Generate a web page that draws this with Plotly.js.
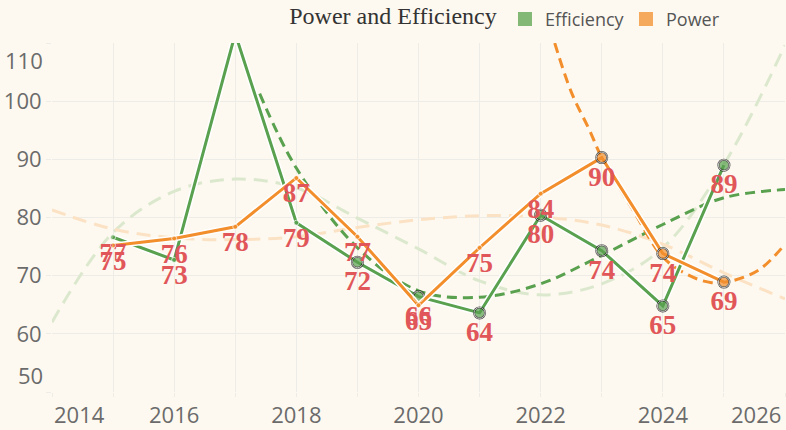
<!DOCTYPE html>
<html>
<head>
<meta charset="utf-8">
<script src="https://cdn.plot.ly/plotly-3.0.1.min.js"></script>
<style>
  html, body { margin: 0; padding: 0; background: #fdf9f0; }
  #chart { width: 786px; height: 430px; }
</style>
</head>
<body>
<div id="chart"></div>
<script>
// yearly values
var years = [2015, 2016, 2017, 2018, 2019, 2020, 2021, 2022, 2023, 2024, 2025];
var efficiency = [76.6, 72.7, 111.6, 79.1, 72.3, 66.4, 63.6, 80.4, 74.3, 64.8, 89.0];
var power = [75.2, 76.4, 78.4, 86.8, 76.7, 64.9, 74.8, 84.1, 90.3, 73.8, 68.9];
// 1 = ringed point
var effRinged = [0, 0, 0, 0, 1, 1, 1, 1, 1, 1, 1];
var powRinged = [0, 0, 0, 0, 0, 0, 0, 0, 1, 1, 1];

// trend curves
var longTrendYears = [2014, 2015, 2016, 2017, 2018, 2019, 2020, 2021, 2022, 2023, 2024, 2025, 2026];
var effLongTrend = [62.0, 77.4, 84.5, 86.6, 85.1, 79.9, 74.6, 69.1, 66.7, 68.6, 74.8, 89.1, 109.6];
var powLongTrend = [81.3, 78.0, 76.5, 76.2, 76.7, 78.3, 79.6, 80.3, 80.1, 78.7, 75.4, 70.5, 66.0];
var effTrendYears = [2017.4, 2018, 2019, 2020, 2021, 2022, 2023, 2024, 2025, 2026];
var effTrend = [101.3, 88.5, 74.8, 67.4, 66.3, 68.6, 73.5, 78.8, 83.4, 84.8];
var powTrendYears = [2022.23, 2022.5, 2022.8, 2023, 2023.5, 2024, 2024.4, 2024.8, 2025.2, 2025.6, 2026];
var powTrend = [110, 101.6, 95, 90.3, 81.5, 73.2, 70.2, 68.8, 69.3, 71.2, 75.4];

// axis ticks
var xTickVals = [2014, 2015, 2016, 2017, 2018, 2019, 2020, 2021, 2022, 2023, 2024, 2025, 2026];
var xTickText = ['', '', '2016', '', '2018', '', '2020', '', '2022', '', '2024', '', ''];
var yTickVals = [50, 60, 70, 80, 90, 100, 110];
var yTickText = ['', '60', '70', '80', '90', '100', ''];
var seriesNames = ['Efficiency', 'Power'];

var Y_MAX = 110;
var GREEN = '#59a14f', ORANGE = '#f28e2b';
var tickFont = {family: 'Open Sans', size: 22, color: '#6b6b6b'};

function sizes(r) { return r.map(function (v) { return v ? 11 : 5; }); }
function rings(r) { return r.map(function (v) { return v ? 2 : 0; }); }
// labels of points above the axis top are not shown
function labelText(y) { return y.map(function (v) { return v <= Y_MAX ? v.toFixed(0) : ''; }); }

function trend(x, y, color, dash) {
  return {x: x, y: y, mode: 'lines', type: 'scatter', showlegend: false, hoverinfo: 'skip',
          line: {color: color, width: 3, dash: dash, shape: 'spline'}};
}
function halo(y) {
  return {x: years, y: y, mode: 'lines', type: 'scatter', showlegend: false, hoverinfo: 'skip',
          line: {color: '#ffffff', width: 6}};
}
function series(y, ringed, color) {
  return {x: years, y: y, mode: 'lines+markers', type: 'scatter', showlegend: false,
          line: {color: color, width: 3},
          marker: {color: color, size: sizes(ringed), line: {color: '#000', width: rings(ringed)}}};
}
function labels(y, ringed) {
  return {x: years, y: y, mode: 'markers+text', type: 'scatter', showlegend: false,
          text: labelText(y), textposition: 'bottom center',
          textfont: {family: 'Liberation Serif', size: 27, color: '#e15759', weight: 700},
          marker: {size: sizes(ringed), color: 'rgba(0,0,0,0)'}};
}
function legendKey(name, color) {
  return {x: [null], y: [null], name: name, mode: 'markers', type: 'scatter',
          marker: {symbol: 'square', size: 14, color: color, opacity: 0.75}};
}

var data = [
  trend(longTrendYears, effLongTrend, '#dce8cd', '14px,8px'),
  trend(longTrendYears, powLongTrend, '#fce2c4', '14px,8px'),
  trend(effTrendYears, effTrend, GREEN, '10px,6px'),
  trend(powTrendYears, powTrend, ORANGE, '10px,6px'),
  halo(efficiency), series(efficiency, effRinged, GREEN),
  halo(power), series(power, powRinged, ORANGE),
  labels(efficiency, effRinged), labels(power, powRinged),
  legendKey(seriesNames[0], GREEN), legendKey(seriesNames[1], ORANGE)
];

var layout = {
  width: 786, height: 430,
  paper_bgcolor: '#fdf9f0', plot_bgcolor: '#fdf9f0',
  margin: {l: 52, r: 1, t: 41, b: 38},
  title: {text: 'Power and Efficiency', x: 0.5, xref: 'container', xanchor: 'center',
          y: 0.963, yref: 'container', yanchor: 'middle',
          font: {family: 'Liberation Serif', size: 24, color: '#333'}},
  showlegend: true,
  legend: {orientation: 'h', x: 0.618, xanchor: 'left', y: 1.068, yanchor: 'middle',
           entrywidth: 76, entrywidthmode: 'pixels',
           bgcolor: 'rgba(0,0,0,0)', font: {family: 'Open Sans', size: 18, color: '#555'}},
  xaxis: {range: [2014, 2026], tickvals: xTickVals, ticktext: xTickText,
          showgrid: true, gridcolor: '#eeece7', zeroline: false, showline: false,
          ticks: 'outside', ticklen: 4, tickcolor: '#eeece7', tickfont: tickFont},
  yaxis: {range: [50, Y_MAX], tickvals: yTickVals, ticktext: yTickText,
          showgrid: true, gridcolor: '#eeece7', zeroline: false, showline: false,
          ticks: 'outside', ticklen: 5, tickcolor: '#eeece7', tickfont: tickFont},
  annotations: [
    // flush edge labels
    {text: '2014', x: 2014, xref: 'x', xanchor: 'left', y: 0, yref: 'paper', yanchor: 'middle',
     yshift: -22, showarrow: false, font: tickFont},
    {text: '2026', x: 2026, xref: 'x', xanchor: 'right', xshift: -2, y: 0, yref: 'paper', yanchor: 'middle',
     yshift: -22, showarrow: false, font: tickFont},
    {text: '110', x: 0, xref: 'paper', xanchor: 'right', xshift: -7, y: Y_MAX, yref: 'y', yanchor: 'middle',
     yshift: -17, showarrow: false, font: tickFont},
    {text: '50', x: 0, xref: 'paper', xanchor: 'right', xshift: -7, y: 50, yref: 'y', yanchor: 'middle',
     yshift: 17, showarrow: false, font: tickFont}
  ]
};

Plotly.newPlot('chart', data, layout, {staticPlot: true});
</script>
</body>
</html>
